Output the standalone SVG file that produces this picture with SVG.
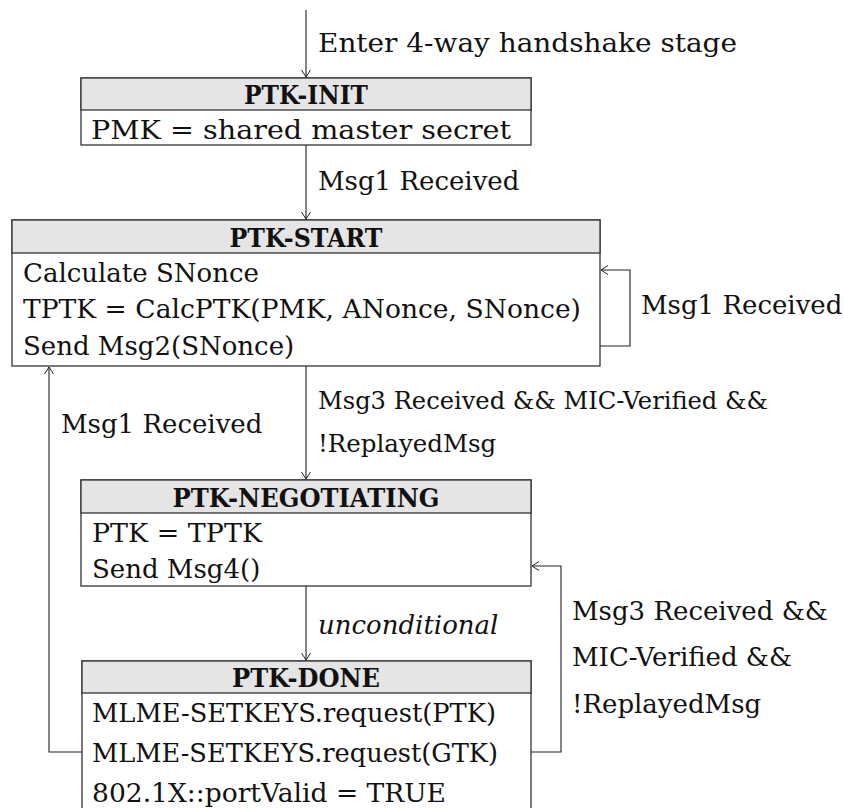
<svg xmlns="http://www.w3.org/2000/svg" width="844" height="808" viewBox="0 0 844 808">
<defs>
<marker id="arr" viewBox="-8 -5 9 10" refX="0" refY="0" markerWidth="9" markerHeight="10" markerUnits="userSpaceOnUse" orient="auto">
<path d="M-7,-4.5 L0,0 L-7,4.5" fill="none" stroke="#222" stroke-width="1"/>
</marker>
</defs>
<style>
text{font-family:"DejaVu Serif","Liberation Serif",serif;font-size:26px;fill:#111}
.h{font-weight:bold;text-anchor:middle}
.i{font-style:italic}
.s{font-size:24.5px}
.box{fill:#fff;stroke:#333;stroke-width:1.3}
.hd{fill:#e5e5e5;stroke:#333;stroke-width:1.3}
.c{fill:none;stroke:#222;stroke-width:1.1}
</style>
<rect width="844" height="808" fill="#fff"/>
<g id="connectors">
<path class="c" d="M306,10 V77" marker-end="url(#arr)"/>
<path class="c" d="M306,145 V219" marker-end="url(#arr)"/>
<path class="c" d="M600,346 H630 V270 H601" marker-end="url(#arr)"/>
<path class="c" d="M306,366 V479" marker-end="url(#arr)"/>
<path class="c" d="M306,586 V660" marker-end="url(#arr)"/>
<path class="c" d="M82,752 H49 V367" marker-end="url(#arr)"/>
<path class="c" d="M531,752 H561 V566 H532" marker-end="url(#arr)"/>
<text x="318" y="52" textLength="419" lengthAdjust="spacingAndGlyphs">Enter 4-way handshake stage</text>
<text x="318" y="190">Msg1 Received</text>
<text x="641" y="314">Msg1 Received</text>
<text class="s" x="318" y="409" textLength="450" lengthAdjust="spacingAndGlyphs">Msg3 Received &amp;&amp; MIC-Verified &amp;&amp;</text>
<text class="s" x="318" y="452">!ReplayedMsg</text>
<text x="61" y="433">Msg1 Received</text>
<text class="i" x="318" y="634">unconditional</text>
<text x="572" y="620">Msg3 Received &amp;&amp;</text>
<text x="572" y="666">MIC-Verified &amp;&amp;</text>
<text x="572" y="713">!ReplayedMsg</text>
</g>
<g id="ptk-init">
<rect class="box" x="81" y="78" width="450" height="67"/>
<rect class="hd" x="81" y="78" width="450" height="32"/>
<text class="h" x="306" y="104" textLength="124" lengthAdjust="spacingAndGlyphs">PTK-INIT</text>
<text x="91" y="139" textLength="420" lengthAdjust="spacingAndGlyphs">PMK = shared master secret</text>
</g>
<g id="ptk-start">
<rect class="box" x="12" y="220" width="588" height="146"/>
<rect class="hd" x="12" y="220" width="588" height="33"/>
<text class="h" x="306" y="247" textLength="153" lengthAdjust="spacingAndGlyphs">PTK-START</text>
<text x="23" y="282">Calculate SNonce</text>
<text x="23" y="318" textLength="558" lengthAdjust="spacingAndGlyphs">TPTK = CalcPTK(PMK, ANonce, SNonce)</text>
<text x="23" y="355">Send Msg2(SNonce)</text>
</g>
<g id="ptk-negotiating">
<rect class="box" x="81" y="480" width="450" height="106"/>
<rect class="hd" x="81" y="480" width="450" height="33"/>
<text class="h" x="306" y="507" textLength="267" lengthAdjust="spacingAndGlyphs">PTK-NEGOTIATING</text>
<text x="92" y="542" textLength="170" lengthAdjust="spacingAndGlyphs">PTK = TPTK</text>
<text x="92" y="578">Send Msg4()</text>
</g>
<g id="ptk-done">
<rect class="box" x="82" y="661" width="449" height="160"/>
<rect class="hd" x="82" y="661" width="449" height="32"/>
<text class="h" x="306" y="687" textLength="148" lengthAdjust="spacingAndGlyphs">PTK-DONE</text>
<text x="92" y="722" textLength="404" lengthAdjust="spacingAndGlyphs">MLME-SETKEYS.request(PTK)</text>
<text x="92" y="762" textLength="406" lengthAdjust="spacingAndGlyphs">MLME-SETKEYS.request(GTK)</text>
<text x="92" y="802" textLength="354" lengthAdjust="spacingAndGlyphs">802.1X::portValid = TRUE</text>
</g>
</svg>
